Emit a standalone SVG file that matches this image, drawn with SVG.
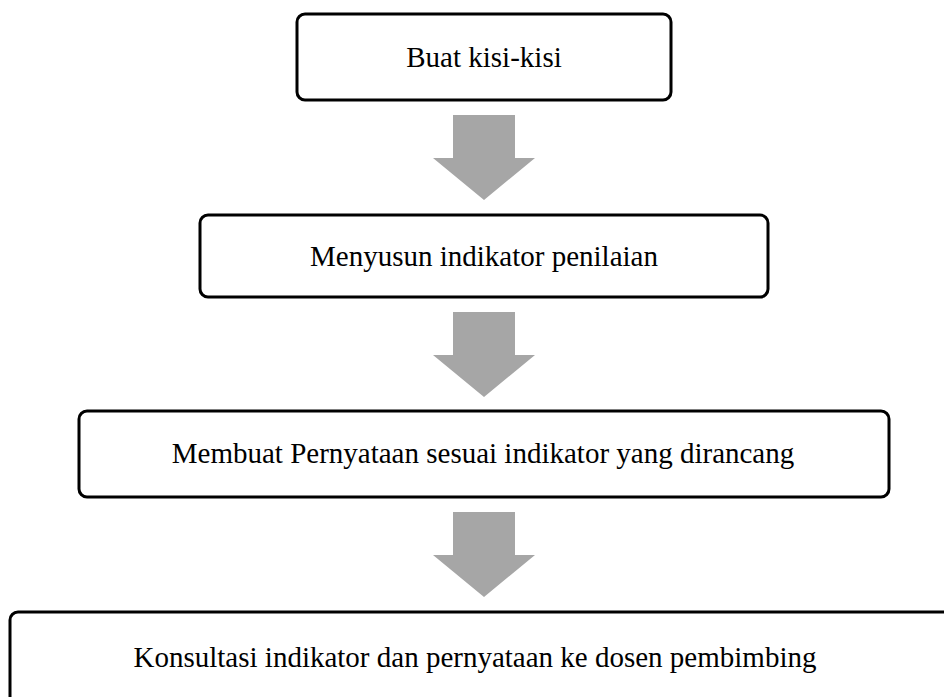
<svg xmlns="http://www.w3.org/2000/svg" width="944" height="697" viewBox="0 0 944 697">
<style>
.box{fill:#ffffff;stroke:#000000;stroke-width:3}
.lbl{font-family:"Liberation Serif","Times New Roman",serif;font-size:29px;fill:#000000;text-anchor:middle}
.arr{fill:#a6a6a6;stroke:none}
</style>
<rect x="0" y="0" width="944" height="697" fill="#ffffff"/>
<g id="connectors">
<polygon class="arr" points="453,115 515,115 515,158 535,158 484,200 433,158 453,158"/>
<polygon class="arr" points="453,312 515,312 515,355 535,355 484,397 433,355 453,355"/>
<polygon class="arr" points="453,512 515,512 515,555 535,555 484,597 433,555 453,555"/>
</g>
<g id="node1">
<rect class="box" x="297" y="14" width="374" height="86" rx="8"/>
<text class="lbl" x="484" y="67">Buat kisi-kisi</text>
</g>
<g id="node2">
<rect class="box" x="200" y="215" width="568" height="82" rx="8"/>
<text class="lbl" x="484" y="266">Menyusun indikator penilaian</text>
</g>
<g id="node3">
<rect class="box" x="79" y="411" width="810" height="86" rx="8"/>
<text class="lbl" x="483" y="463">Membuat Pernyataan sesuai indikator yang dirancang</text>
</g>
<g id="node4">
<rect class="box" x="10" y="612" width="948" height="110" rx="8"/>
<text class="lbl" x="475" y="667">Konsultasi indikator dan pernyataan ke dosen pembimbing</text>
</g>
</svg>
